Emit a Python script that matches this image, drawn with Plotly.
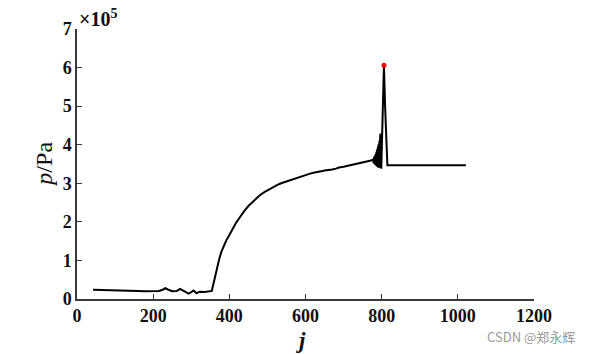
import plotly.graph_objects as go

# Data (j index, pressure in Pa)
j_vals = [42, 80, 120, 160, 180, 200, 215, 225, 232, 240, 250, 262, 271, 280, 293, 300,
          306, 314, 322, 335, 349, 354, 356, 360, 364, 368, 373, 379, 385, 392, 399, 406,
          412, 418, 425, 432, 440, 450, 460, 470, 480, 492, 504, 515, 525, 536, 548, 560,
          570, 580, 591, 602, 612, 624, 635, 645, 650, 660, 670, 680, 688, 700, 710, 725,
          740, 750, 760, 768, 772,
          778, 779, 780, 781, 782, 783, 784, 785, 786, 787, 788, 789, 790, 791, 792, 793,
          794, 795, 796, 797, 798, 799, 800, 801, 803, 806, 809, 812, 815, 820, 1021]
p_vals = [24000, 23500, 22500, 21000, 20000, 21500, 21000, 24000, 28000, 24000, 20000, 21000,
          26000, 21000, 14000, 18000, 22000, 15000, 19000, 18000, 19000, 21000, 30000, 48000,
          65000, 82000, 102000, 122000, 138000, 152000, 164000, 177000, 188000, 198000,
          208000, 219000, 229000, 241000, 251000, 261000, 269000, 277000, 284000, 290000,
          295000, 300000, 304000, 308000, 312000, 316000, 319000, 322000, 325000, 328000,
          331000, 332000, 333000, 334000, 336000, 338000, 341000, 343000, 345000, 348000,
          351000, 353000, 355000, 357000, 359000,
          362000, 352000, 368000, 350000, 372000, 348000, 376000, 346000, 382000, 344000,
          388000, 342000, 395000, 341000, 402000, 340000, 410000, 340000, 420000, 429000,
          345000, 338000, 380000, 420000, 500000, 606000, 500000, 390000, 347000, 347000, 347000]
peak_j = [806]
peak_p = [606000]

x_ticks = [0, 200, 400, 600, 800, 1000, 1200]
y_ticks = [0, 100000, 200000, 300000, 400000, 500000, 600000, 700000]
y_tick_labels = ["0", "1", "2", "3", "4", "5", "6", "7"]

axis_color = "#3a3a3a"
serif = "Liberation Serif"
font_tick = dict(family=serif, size=18, color="#111111", weight="bold")

fig = go.Figure()
fig.add_trace(go.Scatter(x=j_vals, y=p_vals, mode="lines",
                         line=dict(color="black", width=2), showlegend=False))
fig.add_trace(go.Scatter(x=peak_j, y=peak_p, mode="markers",
                         marker=dict(color="red", size=5), showlegend=False))

fig.update_layout(
    width=591, height=354,
    margin=dict(l=76.5, r=56.5, t=29, b=55),
    paper_bgcolor="white", plot_bgcolor="white",
    font=dict(family=serif),
    xaxis=dict(range=[0, 1200], tickvals=x_ticks, ticktext=[str(v) for v in x_ticks],
               ticks="inside", ticklen=5,
               tickcolor=axis_color, tickwidth=1.2, showline=True, linecolor=axis_color,
               linewidth=1.5, showgrid=False, zeroline=False, tickfont=font_tick),
    yaxis=dict(range=[0, 700000], tickvals=y_ticks, ticktext=y_tick_labels,
               ticks="inside", ticklen=5, tickcolor=axis_color, tickwidth=1.2,
               showline=True, linecolor=axis_color, linewidth=1.5, showgrid=False,
               zeroline=False, tickfont=font_tick),
)

fig.add_annotation(xref="paper", yref="paper", x=0.0, y=1.0, xanchor="left", yanchor="bottom",
                   text="×10<sup>5</sup>", showarrow=False, yshift=-3,
                   font=dict(family=serif, size=20, color="#111111", weight="bold"))
fig.add_annotation(xref="paper", yref="paper", x=0.49, y=-0.155, xanchor="center", yanchor="middle",
                   text="<i>j</i>", showarrow=False,
                   font=dict(family=serif, size=23, color="#111111", weight="bold"))
fig.add_annotation(xref="paper", yref="paper", x=-0.073, y=0.5, xanchor="center", yanchor="middle",
                   text="<i>p</i>/Pa", textangle=-90, showarrow=False,
                   font=dict(family=serif, size=24, color="#111111"))
fig.add_annotation(xref="paper", yref="paper", x=1.095, y=-0.14, xanchor="right", yanchor="middle",
                   text="CSDN @郑永辉", showarrow=False,
                   font=dict(family="Noto Sans CJK SC", size=13, color="#999999"))

fig.write_html("out.html")
